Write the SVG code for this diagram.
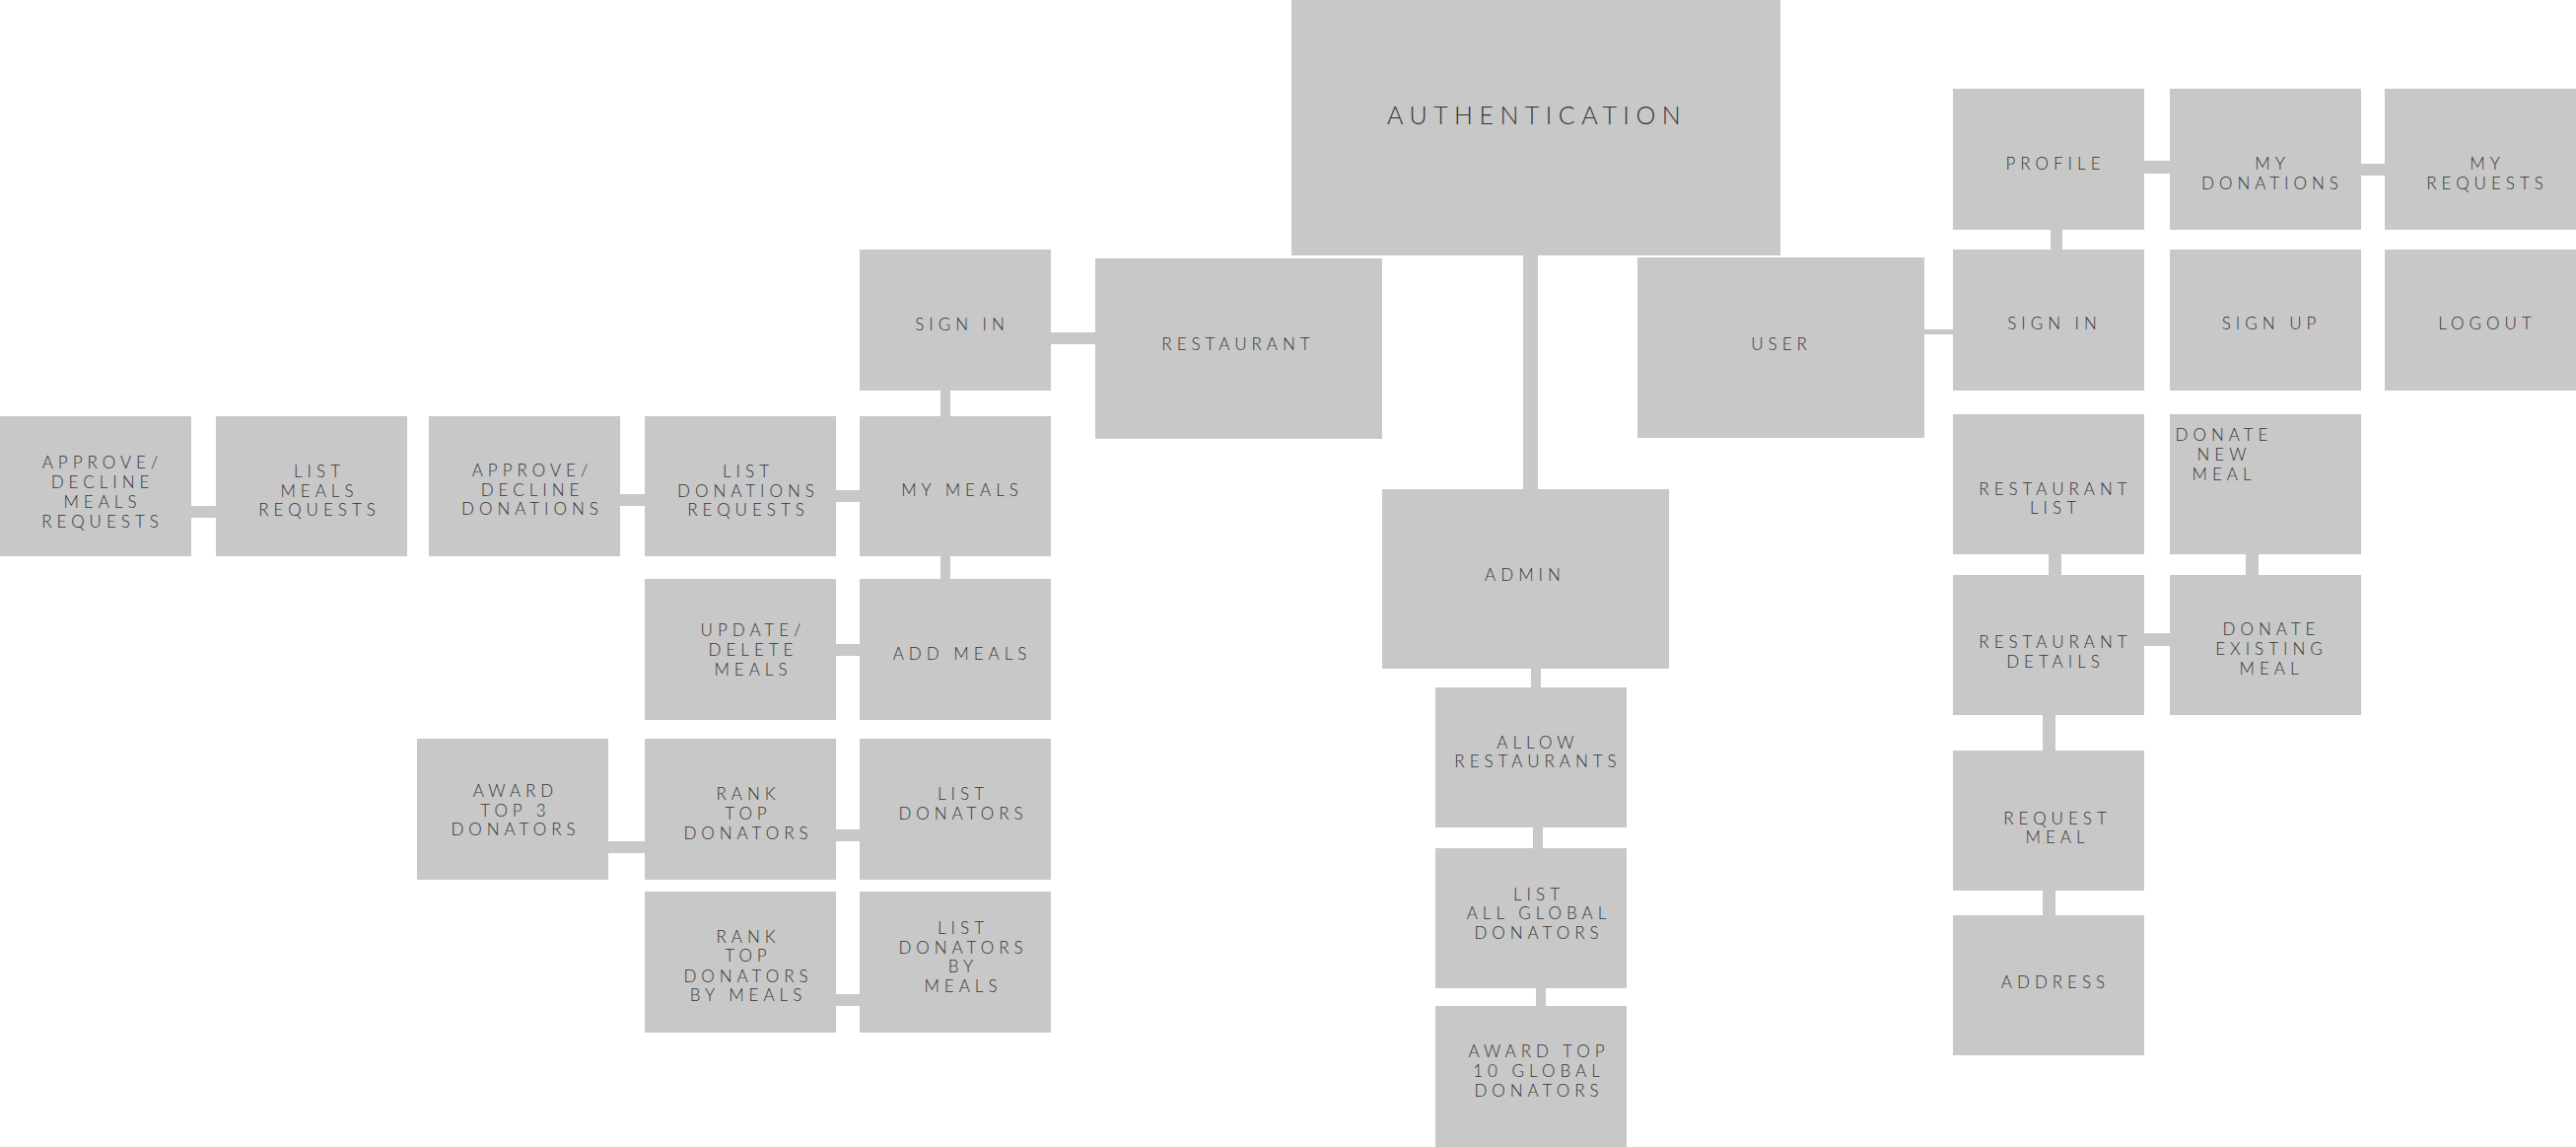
<svg xmlns="http://www.w3.org/2000/svg" width="2613" height="1163" viewBox="0 0 2613 1163">
<style>
.box{fill:#c8c8c8}
.conn rect{fill:#c8c8c8}
.lbl{font-family:Lato,"Open Sans","Liberation Sans",sans-serif;font-size:17px;font-weight:300;letter-spacing:5px;fill:#333333;text-anchor:middle}
.big{font-size:25px;letter-spacing:6.5px}
</style>
<rect width="2613" height="1163" fill="#ffffff"/>
<g id="connectors" class="conn">
<rect x="1545" y="257" width="15" height="240"/>
<rect x="1064" y="337" width="49" height="12"/>
<rect x="954" y="394" width="10" height="30"/>
<rect x="846" y="497" width="28" height="12"/>
<rect x="627" y="501" width="29" height="12"/>
<rect x="192" y="513" width="29" height="12"/>
<rect x="954" y="561" width="10" height="28"/>
<rect x="846" y="653" width="28" height="12"/>
<rect x="846" y="841" width="28" height="12"/>
<rect x="615" y="853" width="41" height="12"/>
<rect x="846" y="1008" width="28" height="12"/>
<rect x="1553" y="676" width="10" height="23"/>
<rect x="1555" y="837" width="10" height="25"/>
<rect x="1558" y="1000" width="10" height="22"/>
<rect x="1950" y="334" width="33" height="5"/>
<rect x="2080" y="231" width="12" height="24"/>
<rect x="2173" y="163" width="30" height="13"/>
<rect x="2393" y="166" width="28" height="12"/>
<rect x="2078" y="560" width="13" height="25"/>
<rect x="2278" y="560" width="13" height="25"/>
<rect x="2173" y="642" width="30" height="13"/>
<rect x="2072" y="723" width="13" height="40"/>
<rect x="2072" y="901" width="13" height="29"/>
</g>
<g id="authentication"><rect class="box" x="1310" y="0" width="496" height="259"/><text class="lbl big" x="1559" y="126">AUTHENTICATION</text></g>
<g id="restaurant-sign-in"><rect class="box" x="872" y="253" width="194" height="143"/><text class="lbl" x="976" y="335">SIGN IN</text></g>
<g id="restaurant"><rect class="box" x="1111" y="262" width="291" height="183"/><text class="lbl" x="1256" y="355">RESTAURANT</text></g>
<g id="user"><rect class="box" x="1661" y="261" width="291" height="183"/><text class="lbl" x="1807" y="355">USER</text></g>
<g id="admin"><rect class="box" x="1402" y="496" width="291" height="182"/><text class="lbl" x="1547" y="589">ADMIN</text></g>
<g id="allow-restaurants"><rect class="box" x="1456" y="697" width="194" height="142"/><text class="lbl"><tspan x="1560" y="759">ALLOW</tspan><tspan x="1560" y="778">RESTAURANTS</tspan></text></g>
<g id="list-all-global-donators"><rect class="box" x="1456" y="860" width="194" height="142"/><text class="lbl"><tspan x="1561" y="913">LIST</tspan><tspan x="1561" y="932">ALL GLOBAL</tspan><tspan x="1561" y="952">DONATORS</tspan></text></g>
<g id="award-top-10"><rect class="box" x="1456" y="1020" width="194" height="143"/><text class="lbl"><tspan x="1561" y="1072">AWARD TOP</tspan><tspan x="1561" y="1092">10 GLOBAL</tspan><tspan x="1561" y="1112">DONATORS</tspan></text></g>
<g id="profile"><rect class="box" x="1981" y="90" width="194" height="143"/><text class="lbl" x="2085" y="172">PROFILE</text></g>
<g id="my-donations"><rect class="box" x="2201" y="90" width="194" height="143"/><text class="lbl"><tspan x="2305" y="172">MY</tspan><tspan x="2305" y="192">DONATIONS</tspan></text></g>
<g id="my-requests"><rect class="box" x="2419" y="90" width="194" height="143"/><text class="lbl"><tspan x="2523" y="172">MY</tspan><tspan x="2523" y="192">REQUESTS</tspan></text></g>
<g id="user-sign-in"><rect class="box" x="1981" y="253" width="194" height="143"/><text class="lbl" x="2084" y="334">SIGN IN</text></g>
<g id="sign-up"><rect class="box" x="2201" y="253" width="194" height="143"/><text class="lbl" x="2304" y="334">SIGN UP</text></g>
<g id="logout"><rect class="box" x="2419" y="253" width="194" height="143"/><text class="lbl" x="2523" y="334">LOGOUT</text></g>
<g id="restaurant-list"><rect class="box" x="1981" y="420" width="194" height="142"/><text class="lbl"><tspan x="2085" y="502">RESTAURANT</tspan><tspan x="2085" y="521">LIST</tspan></text></g>
<g id="donate-new-meal"><rect class="box" x="2201" y="420" width="194" height="142"/><text class="lbl"><tspan x="2256" y="447">DONATE</tspan><tspan x="2256" y="467">NEW</tspan><tspan x="2256" y="487">MEAL</tspan></text></g>
<g id="restaurant-details"><rect class="box" x="1981" y="583" width="194" height="142"/><text class="lbl"><tspan x="2085" y="657">RESTAURANT</tspan><tspan x="2085" y="677">DETAILS</tspan></text></g>
<g id="donate-existing-meal"><rect class="box" x="2201" y="583" width="194" height="142"/><text class="lbl"><tspan x="2304" y="644">DONATE</tspan><tspan x="2304" y="664">EXISTING</tspan><tspan x="2304" y="684">MEAL</tspan></text></g>
<g id="request-meal"><rect class="box" x="1981" y="761" width="194" height="142"/><text class="lbl"><tspan x="2087" y="836">REQUEST</tspan><tspan x="2087" y="855">MEAL</tspan></text></g>
<g id="address"><rect class="box" x="1981" y="928" width="194" height="142"/><text class="lbl" x="2085" y="1002">ADDRESS</text></g>
<g id="my-meals"><rect class="box" x="872" y="422" width="194" height="142"/><text class="lbl" x="976" y="503">MY MEALS</text></g>
<g id="add-meals"><rect class="box" x="872" y="587" width="194" height="143"/><text class="lbl" x="976" y="669">ADD MEALS</text></g>
<g id="list-donations-requests"><rect class="box" x="654" y="422" width="194" height="142"/><text class="lbl"><tspan x="759" y="484">LIST</tspan><tspan x="759" y="504">DONATIONS</tspan><tspan x="759" y="523">REQUESTS</tspan></text></g>
<g id="approve-decline-donations"><rect class="box" x="435" y="422" width="194" height="142"/><text class="lbl"><tspan x="540" y="483">APPROVE/</tspan><tspan x="540" y="503">DECLINE</tspan><tspan x="540" y="522">DONATIONS</tspan></text></g>
<g id="list-meals-requests"><rect class="box" x="219" y="422" width="194" height="142"/><text class="lbl"><tspan x="324" y="484">LIST</tspan><tspan x="324" y="504">MEALS</tspan><tspan x="324" y="523">REQUESTS</tspan></text></g>
<g id="approve-decline-meals-requests"><rect class="box" x="0" y="422" width="194" height="142"/><text class="lbl"><tspan x="104" y="475">APPROVE/</tspan><tspan x="104" y="495">DECLINE</tspan><tspan x="104" y="515">MEALS</tspan><tspan x="104" y="535">REQUESTS</tspan></text></g>
<g id="update-delete-meals"><rect class="box" x="654" y="587" width="194" height="143"/><text class="lbl"><tspan x="764" y="645">UPDATE/</tspan><tspan x="764" y="665">DELETE</tspan><tspan x="764" y="685">MEALS</tspan></text></g>
<g id="award-top-3-donators"><rect class="box" x="423" y="749" width="194" height="143"/><text class="lbl"><tspan x="523" y="808">AWARD</tspan><tspan x="523" y="828">TOP 3</tspan><tspan x="523" y="847">DONATORS</tspan></text></g>
<g id="rank-top-donators"><rect class="box" x="654" y="749" width="194" height="143"/><text class="lbl"><tspan x="759" y="811">RANK</tspan><tspan x="759" y="831">TOP</tspan><tspan x="759" y="851">DONATORS</tspan></text></g>
<g id="list-donators"><rect class="box" x="872" y="749" width="194" height="143"/><text class="lbl"><tspan x="977" y="811">LIST</tspan><tspan x="977" y="831">DONATORS</tspan></text></g>
<g id="rank-top-donators-by-meals"><rect class="box" x="654" y="904" width="194" height="143"/><text class="lbl"><tspan x="759" y="956">RANK</tspan><tspan x="759" y="975">TOP</tspan><tspan x="759" y="996">DONATORS</tspan><tspan x="759" y="1015">BY MEALS</tspan></text></g>
<g id="list-donators-by-meals"><rect class="box" x="872" y="904" width="194" height="143"/><text class="lbl"><tspan x="977" y="947">LIST</tspan><tspan x="977" y="967">DONATORS</tspan><tspan x="977" y="986">BY</tspan><tspan x="977" y="1006">MEALS</tspan></text></g>
</svg>
